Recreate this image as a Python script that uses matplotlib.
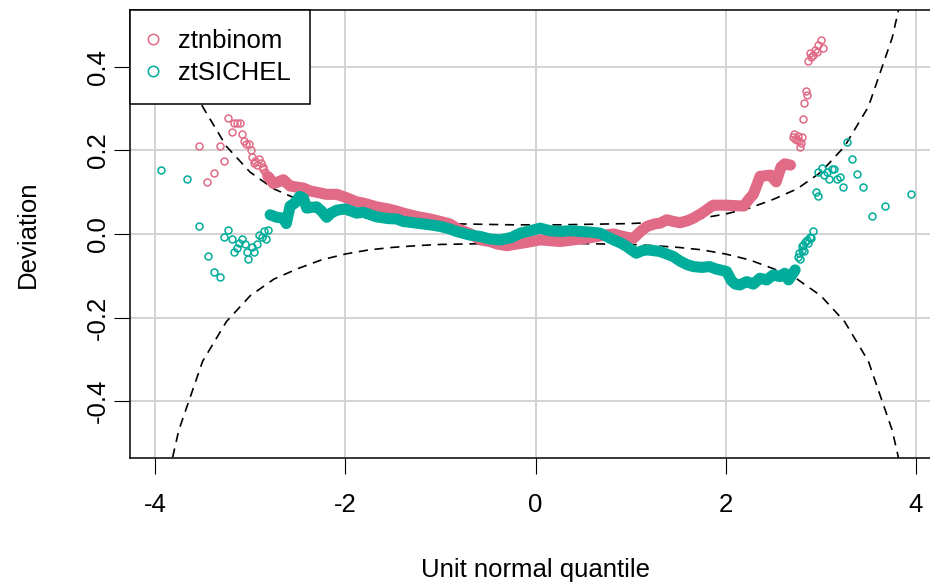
import matplotlib

matplotlib.use("Agg", force=True)
import matplotlib.pyplot as plt
import numpy as np

plt.rcParams["font.family"] = ["Liberation Sans", "DejaVu Sans"]
plt.rcParams["axes.unicode_minus"] = False

PINK = "#E16A86"
TEAL = "#00AD9A"

# dense middle part of each worm (traced centre of the point cloud)
pink_body_x = [-2.80, -2.756, -2.70, -2.651, -2.58, -2.50, -2.44, -2.37, -2.30, -2.20, -2.09, -2.00,
               -1.88, -1.81, -1.67, -1.55, -1.46, -1.39, -1.25, -1.11, -1.00, -0.90, -0.83, -0.79,
               -0.68, -0.58, -0.48, -0.40, -0.30, -0.20, -0.09, 0.05, 0.15, 0.26, 0.40, 0.54, 0.65,
               0.75, 0.82, 0.96, 1.03, 1.10, 1.17, 1.25, 1.31, 1.38, 1.45, 1.52, 1.60, 1.66, 1.75,
               1.83, 1.87, 1.95, 2.01, 2.08, 2.19, 2.25, 2.29, 2.34, 2.36, 2.43, 2.47, 2.53, 2.58,
               2.62, 2.68]
pink_body_y = [0.135, 0.121, 0.125, 0.130, 0.115, 0.112, 0.110, 0.103, 0.100, 0.095, 0.095, 0.088,
               0.077, 0.074, 0.065, 0.060, 0.055, 0.050, 0.042, 0.036, 0.030, 0.024, 0.014, 0.010,
               0.000, -0.014, -0.018, -0.024, -0.028, -0.024, -0.020, -0.014, -0.016, -0.018, -0.014,
               -0.010, -0.006, -0.002, 0.000, -0.008, -0.010, 0.005, 0.018, 0.024, 0.026, 0.034,
               0.030, 0.027, 0.032, 0.038, 0.050, 0.063, 0.069, 0.069, 0.069, 0.068, 0.067, 0.085,
               0.095, 0.125, 0.138, 0.140, 0.141, 0.125, 0.160, 0.168, 0.165]

teal_body_x = [-2.79, -2.72, -2.65, -2.62, -2.58, -2.53, -2.48, -2.44, -2.405, -2.35, -2.30, -2.25,
               -2.195, -2.15, -2.09, -2.00, -1.88, -1.81, -1.67, -1.55, -1.46, -1.39, -1.25, -1.11,
               -1.00, -0.90, -0.83, -0.70, -0.58, -0.48, -0.37, -0.25, -0.16, -0.05, 0.05, 0.15,
               0.26, 0.37, 0.47, 0.60, 0.68, 0.75, 0.82, 0.90, 0.96, 1.02, 1.06, 1.12, 1.17, 1.25,
               1.31, 1.38, 1.45, 1.52, 1.60, 1.66, 1.75, 1.83, 1.90, 1.94, 2.01, 2.06, 2.10, 2.15,
               2.22, 2.29, 2.36, 2.43, 2.50, 2.57, 2.62, 2.66, 2.69, 2.73]
teal_body_y = [0.046, 0.040, 0.038, 0.025, 0.067, 0.074, 0.090, 0.086, 0.062, 0.064, 0.065, 0.055,
               0.040, 0.050, 0.057, 0.060, 0.050, 0.052, 0.041, 0.037, 0.036, 0.030, 0.026, 0.022,
               0.018, 0.012, 0.006, -0.002, -0.006, -0.012, -0.014, -0.008, 0.002, 0.008, 0.014,
               0.008, 0.006, 0.008, 0.006, 0.004, 0.002, -0.006, -0.014, -0.022, -0.030, -0.040,
               -0.046, -0.040, -0.038, -0.040, -0.042, -0.048, -0.054, -0.065, -0.074, -0.078,
               -0.080, -0.078, -0.084, -0.086, -0.090, -0.112, -0.120, -0.122, -0.114, -0.120,
               -0.106, -0.110, -0.098, -0.102, -0.094, -0.110, -0.100, -0.086]

# sparse points in the tails
pink_x = [-3.534, -3.450, -3.377, -3.320, -3.271, -3.229, -3.194, -3.166, -3.141, -3.106, -3.085,
          -3.064, -3.043, -3.009, -2.994, -2.983, -2.962, -2.950, -2.930, -2.907, -2.886, -2.870,
          -2.862, -2.844, -2.830, -2.809,
          2.710, 2.720, 2.730, 2.746, 2.760, 2.770, 2.781, 2.790, 2.798, 2.815, 2.826, 2.840,
          2.851, 2.868, 2.886, 2.900, 2.921, 2.940, 2.956, 2.973, 2.998, 3.019]
pink_y = [0.211, 0.124, 0.147, 0.211, 0.174, 0.279, 0.244, 0.265, 0.267, 0.265, 0.239,
          0.223, 0.216, 0.215, 0.200, 0.184, 0.171, 0.176, 0.165, 0.179, 0.169, 0.155,
          0.161, 0.149, 0.138, 0.141,
          0.233, 0.240, 0.228, 0.225, 0.235, 0.222, 0.209, 0.218, 0.233, 0.275, 0.313, 0.342,
          0.333, 0.414, 0.433, 0.425, 0.429, 0.440, 0.437, 0.453, 0.465, 0.445]

teal_x = [-3.940, -3.667, -3.534, -3.446, -3.377, -3.317, -3.271, -3.229, -3.194, -3.166, -3.141,
          -3.117, -3.089, -3.054, -3.036, -3.019, -2.983, -2.956, -2.931, -2.907, -2.878, -2.851,
          -2.833, -2.816,
          2.763, 2.770, 2.780, 2.798, 2.805, 2.815, 2.822, 2.830, 2.851, 2.860, 2.886, 2.900,
          2.921, 2.949, 2.966, 2.973, 3.008, 3.033, 3.061, 3.088, 3.114, 3.138, 3.173, 3.201,
          3.236, 3.278, 3.324, 3.377, 3.446, 3.541, 3.674, 3.944]
teal_y = [0.153, 0.132, 0.019, -0.052, -0.091, -0.103, -0.006, 0.010, -0.012, -0.044, -0.034,
          -0.022, -0.013, -0.025, -0.042, -0.061, -0.030, -0.042, -0.024, -0.002, -0.006, 0.006,
          -0.013, 0.010,
          -0.054, -0.045, -0.060, -0.038, -0.028, -0.026, -0.040, -0.020, -0.014, -0.022, -0.006,
          -0.010, 0.006, 0.100, 0.092, 0.149, 0.157, 0.141, 0.149, 0.131, 0.155, 0.155, 0.131,
          0.136, 0.113, 0.220, 0.179, 0.143, 0.112, 0.044, 0.068, 0.095]

# half-width of the dashed confidence band, read at |z|
band_z = [0.0, 0.25, 0.5, 0.75, 1.0, 1.25, 1.5, 1.75, 2.0, 2.25, 2.5, 2.75, 3.0, 3.25, 3.5, 3.75, 4.0]
band_half = [0.022, 0.022, 0.023, 0.024, 0.025, 0.028, 0.032, 0.038, 0.048, 0.062, 0.083, 0.108,
             0.148, 0.210, 0.305, 0.470, 0.720]

x_ticks = [-4, -2, 0, 2, 4]
y_ticks = [-0.4, -0.2, 0.0, 0.2, 0.4]
y_tick_labels = ["-0.4", "-0.2", "0.0", "0.2", "0.4"]

fig = plt.figure(figsize=(9.3, 5.83), dpi=100)
ax = fig.add_axes([130 / 930, 125 / 583, 811 / 930, 448 / 583])

ax.set_xlim(-4.263, 4.263)
ax.set_ylim(-0.5365, 0.5365)
ax.set_xticks(x_ticks)
ax.set_yticks(y_ticks)
ax.set_yticklabels(y_tick_labels)
ax.grid(True, color="#D3D3D3", linewidth=1.4, zorder=0)
ax.set_axisbelow(True)

bz = np.array(band_z)
bh = np.array(band_half)
zz = np.concatenate([-bz[::-1], bz[1:]])
hh = np.concatenate([bh[::-1], bh[1:]])
ax.plot(zz, hh, color="black", lw=1.2, dashes=(5.5, 4), zorder=2)
ax.plot(zz, -hh, color="black", lw=1.2, dashes=(5.5, 4), zorder=2)

ax.plot(pink_body_x, pink_body_y, color=PINK, lw=8, solid_capstyle="round",
        solid_joinstyle="round", zorder=3)
ax.plot(pink_x, pink_y, "o", mfc="none", mec=PINK, ms=5, mew=1.1, zorder=3, label="ztnbinom")
ax.plot(teal_body_x, teal_body_y, color=TEAL, lw=8, solid_capstyle="round",
        solid_joinstyle="round", zorder=4)
ax.plot(teal_x, teal_y, "o", mfc="none", mec=TEAL, ms=5, mew=1.1, zorder=4, label="ztSICHEL")

for side in ax.spines.values():
    side.set_linewidth(1.1)
ax.tick_params(length=11.5, width=0.8, labelsize=18.5, pad=14)
ax.tick_params(axis="y", pad=3)
for lab in ax.get_yticklabels():
    lab.set_rotation(90)
    lab.set_va("center")

ax.set_xlabel("Unit normal quantile", fontsize=18.5, labelpad=29)
ax.set_ylabel("Deviation", fontsize=18.5, labelpad=33)

leg = ax.legend(loc="upper left", bbox_to_anchor=(0, 1), borderaxespad=0, fontsize=18.5,
                fancybox=False, framealpha=1, edgecolor="black", markerscale=1.5,
                handlelength=0.3, handletextpad=0.8, borderpad=0.75, labelspacing=0.3)
leg.get_frame().set_linewidth(1.1)
leg.set_zorder(10)

fig.savefig("out.png", dpi=100)
